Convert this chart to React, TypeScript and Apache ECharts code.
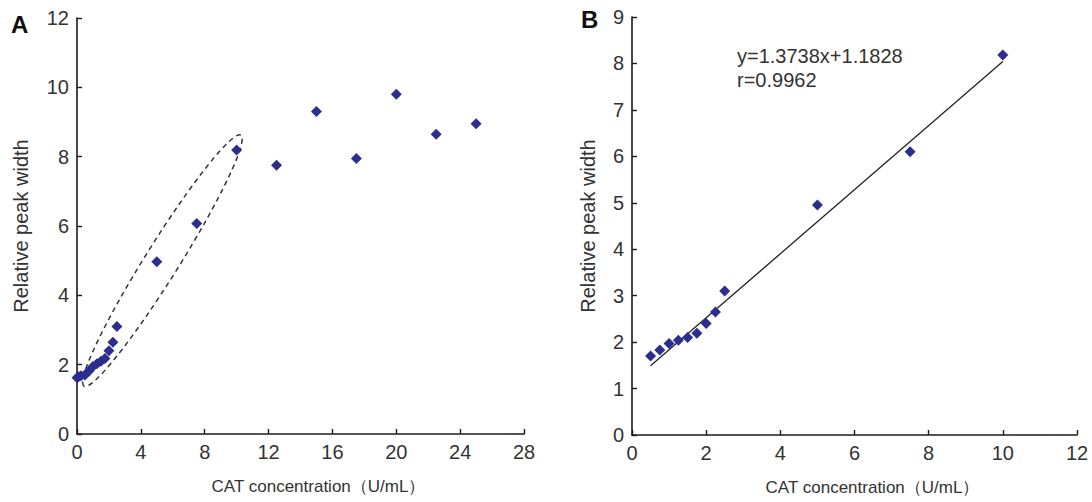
import React, { useEffect, useRef } from "react";
import * as echarts from "echarts";

// Panel A data
const aConc = [0, 0.1, 0.25, 0.5, 0.75, 1, 1.25, 1.5, 1.75, 2, 2.25, 2.5, 5, 7.5, 10, 12.5, 15, 17.5, 20, 22.5, 25];
const aWidth = [1.62, 1.65, 1.68, 1.7, 1.82, 1.95, 2.03, 2.1, 2.18, 2.4, 2.65, 3.1, 4.97, 6.07, 8.19, 7.75, 9.3, 7.95, 9.8, 8.65, 8.95];
// ellipse highlighting the linear range (centre in data units)
const ellipseCentre = [5.35, 5.0];

// Panel B data
const bConc = [0.5, 0.75, 1, 1.25, 1.5, 1.75, 2, 2.25, 2.5, 5, 7.5, 10];
const bWidth = [1.7, 1.83, 1.97, 2.04, 2.1, 2.19, 2.4, 2.65, 3.1, 4.95, 6.1, 8.18];
// fitted line end points as drawn
const fitConc = [0.5, 10];
const fitWidth = [1.49, 8.04];

const equationText = "y=1.3738x+1.1828";
const rText = "r=0.9962";

const xTitle = "CAT concentration（U/mL）";
const yTitle = "Relative peak width";

const MARK = "#2B2E8E";
const AXIS = "#1a1a1a";
const TXT = "#333333";
const FONT = "Liberation Sans, Arial, sans-serif";

function axisCommon() {
  return {
    axisLine: { show: true, onZero: false, lineStyle: { color: AXIS, width: 1.6 } },
    axisTick: { show: true, inside: true, length: 5, lineStyle: { color: AXIS, width: 1.4 } },
    splitLine: { show: false },
    axisLabel: { color: TXT, fontSize: 20, fontFamily: FONT, margin: 8 },
  };
}

const xName = { color: TXT, fontSize: 17, fontFamily: FONT, padding: [0, 0, 0, 36] };
const yName = { color: TXT, fontSize: 20, fontFamily: FONT };

export default function App() {
  const ref = useRef<HTMLDivElement>(null);
  useEffect(() => {
    if (!ref.current) return;
    const chart = echarts.init(ref.current, undefined, { renderer: "svg" });
    const option = {
      animation: false,
      backgroundColor: "#ffffff",
      grid: [
        { left: 77, top: 18, width: 447, height: 416 },
        { left: 632, top: 17, width: 445, height: 418 },
      ],
      xAxis: [
        {
          ...axisCommon(),
          gridIndex: 0,
          type: "value",
          min: 0,
          max: 28,
          interval: 4,
          name: xTitle,
          nameLocation: "middle",
          nameGap: 44,
          nameTextStyle: xName,
        },
        {
          ...axisCommon(),
          gridIndex: 1,
          type: "value",
          min: 0,
          max: 12,
          interval: 2,
          name: xTitle,
          nameLocation: "middle",
          nameGap: 44,
          nameTextStyle: xName,
        },
      ],
      yAxis: [
        {
          ...axisCommon(),
          gridIndex: 0,
          type: "value",
          min: 0,
          max: 12,
          interval: 2,
          name: yTitle,
          nameLocation: "middle",
          nameGap: 46,
          nameTextStyle: yName,
        },
        {
          ...axisCommon(),
          gridIndex: 1,
          type: "value",
          min: 0,
          max: 9,
          interval: 1,
          name: yTitle,
          nameLocation: "middle",
          nameGap: 34,
          nameTextStyle: yName,
        },
      ],
      series: [
        {
          type: "custom",
          xAxisIndex: 0,
          yAxisIndex: 0,
          silent: true,
          clip: false,
          z: 1,
          data: [ellipseCentre],
          renderItem: (params: any, api: any) => {
            const p = api.coord([api.value(0), api.value(1)]);
            return {
              type: "ellipse",
              x: p[0],
              y: p[1],
              rotation: (58 * Math.PI) / 180,
              shape: { cx: 0, cy: 0, rx: 148, ry: 17 },
              style: { fill: "none", stroke: "#333", lineWidth: 1.5, lineDash: [5, 4] },
            };
          },
        },
        {
          type: "scatter",
          xAxisIndex: 0,
          yAxisIndex: 0,
          symbol: "diamond",
          symbolSize: 11,
          itemStyle: { color: MARK, opacity: 1 },
          z: 3,
          data: aConc.map((x, i) => [x, aWidth[i]]),
        },
        {
          type: "line",
          xAxisIndex: 1,
          yAxisIndex: 1,
          symbol: "none",
          lineStyle: { color: "#222", width: 1.3 },
          z: 2,
          data: fitConc.map((x, i) => [x, fitWidth[i]]),
        },
        {
          type: "scatter",
          xAxisIndex: 1,
          yAxisIndex: 1,
          symbol: "diamond",
          symbolSize: 11,
          itemStyle: { color: MARK, opacity: 1 },
          z: 3,
          data: bConc.map((x, i) => [x, bWidth[i]]),
        },
      ],
      graphic: [
        {
          type: "text",
          left: 11,
          top: 12,
          style: { text: "A", fontSize: 24, fontWeight: "bold", fill: "#111", fontFamily: FONT },
        },
        {
          type: "text",
          left: 581,
          top: 7,
          style: { text: "B", fontSize: 24, fontWeight: "bold", fill: "#111", fontFamily: FONT },
        },
        {
          type: "text",
          left: 737,
          top: 46,
          style: { text: equationText, fontSize: 20, fill: TXT, fontFamily: FONT },
        },
        {
          type: "text",
          left: 737,
          top: 70,
          style: { text: rText, fontSize: 20, fill: TXT, fontFamily: FONT },
        },
      ],
    };
    chart.setOption(option as any);
    return () => chart.dispose();
  }, []);
  return (
    <div
      ref={ref}
      style={{ position: "fixed", left: 0, top: 0, width: 1092, height: 502, background: "#fff" }}
    />
  );
}
